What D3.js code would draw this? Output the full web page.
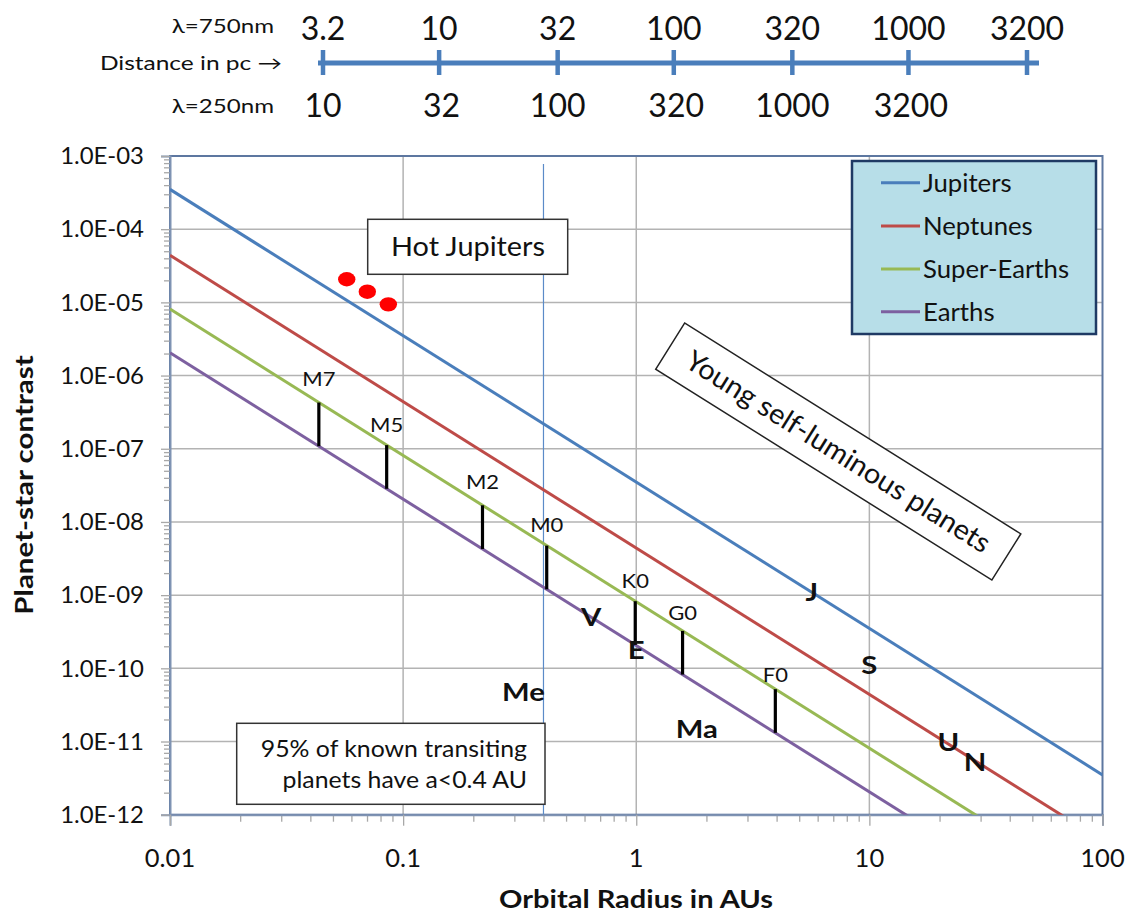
<!DOCTYPE html>
<html><head><meta charset="utf-8">
<script src="https://cdn.jsdelivr.net/npm/d3@7"></script>
<style>
body{margin:0;background:#fff;}
svg text{font-family:Lato,"Open Sans",sans-serif;fill:#111;}
</style></head><body>
<svg id="chart" width="1130" height="914"></svg>
<script>
// ---------- data ----------
const seriesNames = ["Jupiters","Neptunes","Super-Earths","Earths"];
const seriesColors = ["#4a7ebb","#be4b48","#98b954","#7d60a0"];
const lineA = [0.01, 100];                 // orbital radius endpoints (AU)
const jupiters    = [3.5e-4, 3.5e-12];      // contrast at lineA
const neptunes    = [4.4e-5, 4.4e-13];
const superEarths = [8.1e-6, 8.1e-14];
const earths      = [2.05e-6, 2.05e-14];

const hotJupiterA = [0.0573, 0.0702, 0.0864];
const hotJupiterC = [2.07e-5, 1.40e-5, 9.4e-6];

const starTypes  = ["M7","M5","M2","M0","K0","G0","F0"];
const starA      = [0.0435, 0.085, 0.219, 0.413, 0.99, 1.58, 3.95];
const starLabelC = [8.9e-7, 2.11e-7, 3.56e-8, 9.1e-9, 1.56e-9, 5.66e-10, 8.13e-11];

const planetNames = ["Me","V","E","Ma","J","S","U","N"];
const planetA = [0.328, 0.64, 1.0, 1.82, 5.66, 10.0, 21.8, 28.4];
const planetC = [4.8e-11, 5.1e-10, 1.78e-10, 1.47e-11, 1.11e-9, 1.11e-10, 1.0e-11, 5.3e-12];

const xTicks = [0.01, 0.1, 1, 10, 100];
const xTickLabels = ["0.01","0.1","1","10","100"];
const yTicks = [1e-3,1e-4,1e-5,1e-6,1e-7,1e-8,1e-9,1e-10,1e-11,1e-12];
const yTickLabels = ["1.0E-03","1.0E-04","1.0E-05","1.0E-06","1.0E-07","1.0E-08","1.0E-09","1.0E-10","1.0E-11","1.0E-12"];

const dist750 = [3.2, 10, 32, 100, 320, 1000, 3200];
const dist750Labels = ["3.2","10","32","100","320","1000","3200"];
const dist250 = [10, 32, 100, 320, 1000, 3200];
const dist250Labels = ["10","32","100","320","1000","3200"];

const transitLimitAU = 0.4;

// ---------- layout ----------
const svg = d3.select("#chart");
const X0 = 170, X1 = 1102.5, Y0 = 156, Y1 = 814.7;
const x = d3.scaleLog().domain([0.01, 100]).range([X0, X1]);
const y = d3.scaleLog().domain([1e-12, 1e-3]).range([Y1, Y0]);

// text helper with horizontal stretch (reference glyphs are wide)
function txt(parent, px, py, str, size, anchor, sx, bold, rot) {
  const t = parent.append("text")
    .attr("transform", `translate(${px},${py})` + (rot ? ` rotate(${rot})` : "") + ` scale(${sx},1)`)
    .attr("text-anchor", anchor).style("font-size", size + "px").text(str);
  if (bold) t.style("font-weight", "bold").attr("fill", "#000");
  return t;
}

// top distance axis
const d750 = d3.scaleLog().domain([3.2, 3200]).range([323, 1027]);
const d250 = d3.scaleLog().domain([10, 10000]).range([323, 1027]);
const topAxisColor = "#4a7ebb";
svg.append("line").attr("x1", 318).attr("x2", 1039).attr("y1", 63).attr("y2", 63)
  .attr("stroke", topAxisColor).attr("stroke-width", 5);
svg.selectAll(".dtick").data(dist750).enter().append("line")
  .attr("x1", d => d750(d)).attr("x2", d => d750(d)).attr("y1", 50).attr("y2", 75)
  .attr("stroke", topAxisColor).attr("stroke-width", 4.5);
dist750.forEach((d, i) => txt(svg, d750(d), 40, dist750Labels[i], 32, "middle", 1));
dist250.forEach((d, i) => txt(svg, d250(d), 117, dist250Labels[i], 32, "middle", 1));
txt(svg, 274, 33, "λ=750nm", 19, "end", 1.27);
txt(svg, 282, 70, "Distance in pc →", 19, "end", 1.29);
txt(svg, 274, 113, "λ=250nm", 19, "end", 1.27);

// plot background
svg.append("rect").attr("x", X0).attr("y", Y0).attr("width", X1 - X0).attr("height", Y1 - Y0)
  .attr("fill", "#fff");

// gridlines
const grid = svg.append("g");
grid.selectAll(".hg").data(yTicks.slice(1, -1)).enter().append("line")
  .attr("x1", X0).attr("x2", X1).attr("y1", d => y(d)).attr("y2", d => y(d))
  .attr("stroke", "#b3b3b3").attr("stroke-width", 1.5);
grid.selectAll(".vg").data(xTicks.slice(1, -1)).enter().append("line")
  .attr("y1", Y0).attr("y2", Y1).attr("x1", d => x(d)).attr("x2", d => x(d))
  .attr("stroke", "#b3b3b3").attr("stroke-width", 1.5);

// plot border
svg.append("rect").attr("x", X0).attr("y", Y0).attr("width", X1 - X0).attr("height", Y1 - Y0)
  .attr("fill", "none").attr("stroke", "#5d77a0").attr("stroke-width", 2);

// minor ticks
const yMinor = [], xMinor = [];
for (let e = -12; e < -3; e++) for (let k = 2; k <= 9; k++) yMinor.push(k * Math.pow(10, e));
for (let e = -2; e < 2; e++) for (let k = 2; k <= 9; k++) xMinor.push(k * Math.pow(10, e));

const yMinorAxis = d3.axisLeft(y).tickValues(yMinor).tickSize(6).tickFormat("");
const xMinorAxis = d3.axisBottom(x).tickValues(xMinor).tickSize(7).tickFormat("");
const ym = svg.append("g").attr("transform", `translate(${X0},0)`).call(yMinorAxis);
const xm = svg.append("g").attr("transform", `translate(0,${Y1})`).call(xMinorAxis);
[ym, xm].forEach(g => { g.select(".domain").remove(); g.selectAll("line").attr("stroke", "#a8a8a8").attr("stroke-width", 1.3); });

const yAxis = d3.axisLeft(y).tickValues(yTicks).tickSize(9).tickFormat("");
const xAxis = d3.axisBottom(x).tickValues(xTicks).tickSize(11).tickFormat("");
const ya = svg.append("g").attr("transform", `translate(${X0},0)`).call(yAxis);
const xa = svg.append("g").attr("transform", `translate(0,${Y1})`).call(xAxis);
[ya, xa].forEach(g => {
  g.select(".domain").attr("stroke", "#7f93b3").attr("stroke-width", 2);
  g.selectAll(".tick line").attr("stroke", "#a8a8a8").attr("stroke-width", 1.3);
});
// tick labels via scales
yTicks.forEach((d, i) => txt(svg, X0 - 26, y(d) + 8.3, yTickLabels[i], 23, "end", 1.04).attr("fill", "#1a1a1a"));
xTicks.forEach((d, i) => txt(svg, x(d), Y1 + 52, xTickLabels[i], 25, "middle", 1.02).attr("fill", "#1a1a1a"));

// axis titles
txt(svg, 33, 485, "Planet-star contrast", 24, "middle", 1.23, true, -90);
txt(svg, 636, 908, "Orbital Radius in AUs", 24, "middle", 1.21, true);

// transit limit line
svg.append("line").attr("x1", x(transitLimitAU)).attr("x2", x(transitLimitAU))
  .attr("y1", Y0 + 8).attr("y2", Y1).attr("stroke", "#5b8bc8").attr("stroke-width", 1.2);

// clip
svg.append("clipPath").attr("id", "clip").append("rect")
  .attr("x", X0).attr("y", Y0).attr("width", X1 - X0).attr("height", Y1 - Y0);

// series lines
const seriesValues = [jupiters, neptunes, superEarths, earths];
const line = d3.line().x(d => x(d[0])).y(d => y(d[1]));
const plot = svg.append("g").attr("clip-path", "url(#clip)");
seriesValues.forEach((vals, i) => {
  plot.append("path").datum(lineA.map((a, j) => [a, vals[j]]))
    .attr("d", line).attr("fill", "none").attr("stroke", seriesColors[i]).attr("stroke-width", 3);
});

// power-law interpolation along a series line
function valueAt(vals, a) {
  const t = (Math.log10(a) - Math.log10(lineA[0])) / (Math.log10(lineA[1]) - Math.log10(lineA[0]));
  return Math.pow(10, Math.log10(vals[0]) + t * (Math.log10(vals[1]) - Math.log10(vals[0])));
}

// star-type segments
plot.selectAll(".star").data(starA).enter().append("line")
  .attr("x1", d => x(d)).attr("x2", d => x(d))
  .attr("y1", d => y(valueAt(superEarths, d))).attr("y2", d => y(valueAt(earths, d)))
  .attr("stroke", "#000").attr("stroke-width", 3.2);
starA.forEach((d, i) => txt(svg, x(d), y(starLabelC[i]) + 7, starTypes[i], 20, "middle", 1.1));

// planet labels
planetA.forEach((d, i) => txt(svg, x(d), y(planetC[i]) + 9, planetNames[i], 25, "middle", 1.17, true));

// hot jupiters
svg.selectAll(".hj").data(hotJupiterA).enter().append("ellipse")
  .attr("cx", d => x(d)).attr("cy", (d, i) => y(hotJupiterC[i]))
  .attr("rx", 8.7).attr("ry", 7.2).attr("fill", "#ff0000");

// annotation boxes
svg.append("rect").attr("x", 367.7).attr("y", 219.3).attr("width", 200).attr("height", 55)
  .attr("fill", "#fff").attr("stroke", "#333").attr("stroke-width", 1.5);
txt(svg, 468, 256, "Hot Jupiters", 26, "middle", 1.11);

svg.append("rect").attr("x", 236.7).attr("y", 723.3).attr("width", 308.3).attr("height", 81)
  .attr("fill", "#fff").attr("stroke", "#333").attr("stroke-width", 1.5);
txt(svg, 527, 757, "95% of known transiting", 23, "end", 1.08);
txt(svg, 527, 788, "planets have a<0.4 AU", 23, "end", 1.08);

const yb = svg.append("g").attr("transform", "translate(838.3,451.5) rotate(32.1)");
yb.append("rect").attr("x", -198.4).attr("y", -27.2).attr("width", 396.8).attr("height", 54.5)
  .attr("fill", "#fff").attr("stroke", "#222").attr("stroke-width", 1.5);
txt(yb, 0, 10, "Young self-luminous planets", 28, "middle", 1.03);

// legend
const lg = svg.append("g");
lg.append("rect").attr("x", 852).attr("y", 161).attr("width", 244).attr("height", 173)
  .attr("fill", "#b7dee8").attr("stroke", "#1f3a64").attr("stroke-width", 2.5);
const legendY = [182.7, 226, 269, 311.7];
seriesNames.forEach((n, i) => {
  lg.append("line").attr("x1", 881).attr("x2", 920).attr("y1", legendY[i]).attr("y2", legendY[i])
    .attr("stroke", seriesColors[i]).attr("stroke-width", 3);
  txt(lg, 923, legendY[i] + 8.8, n, 25, "start", 1.03);
});
</script>
</body></html>
